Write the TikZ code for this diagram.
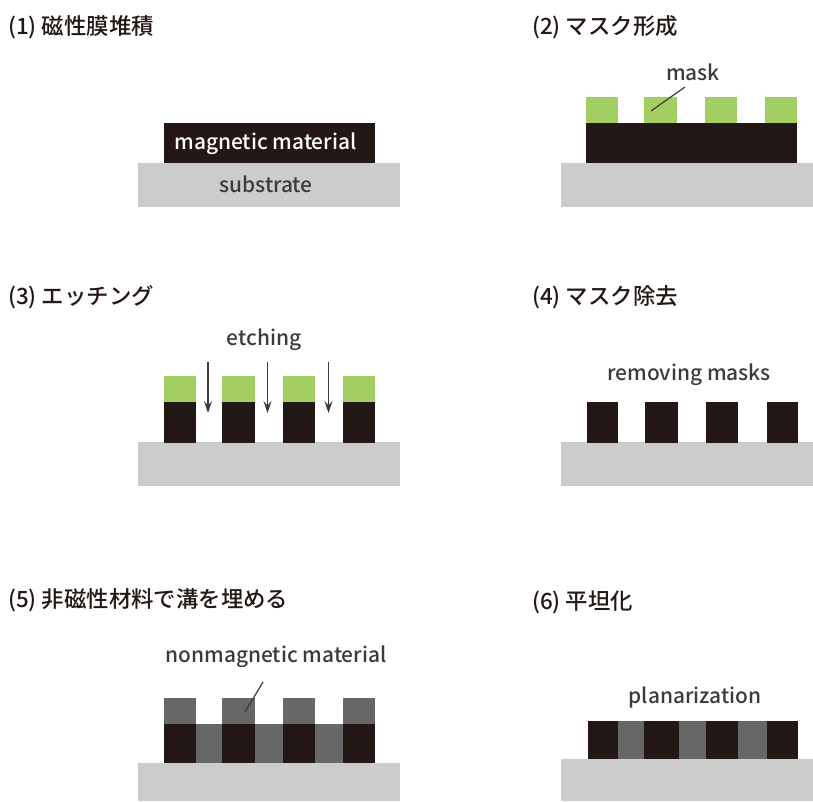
\documentclass[tikz,border=0pt]{standalone}
\usepackage{fontspec}
\setmainfont{Noto Sans CJK JP}[UprightFont=* Medium]
\usetikzlibrary{arrows.meta}
\definecolor{magblk}{HTML}{231815}
\definecolor{maskgrn}{HTML}{A3CF62}
\definecolor{subgray}{HTML}{CCCCCC}
\definecolor{nongray}{HTML}{656866}
\definecolor{txtgray}{HTML}{3E3A39}
\tikzset{
  title/.style={anchor=west,inner sep=0pt,text=magblk,font=\fontsize{22.4}{26}\selectfont},
  lbl/.style={inner sep=0pt,text=txtgray,font=\fontsize{20.9}{25}\selectfont},
  sub/.style={fill=subgray},
  mag/.style={fill=magblk},
  msk/.style={fill=maskgrn},
  nonm/.style={fill=nongray},
  leader/.style={draw=txtgray,line width=1.2pt},
  etch/.style={draw=txtgray,line width=1.4pt,-{Stealth[length=12pt,width=8pt,inset=4.5pt]}}
}
\begin{document}
\begin{tikzpicture}[x=1pt,y=-1pt]
\useasboundingbox (0,0) rectangle (813,801);
% ---------- Panel 1
\node[title] (t1) at (8,27) {(1) 磁性膜堆積};
\fill[sub] (138,163) rectangle (400,207);
\fill[mag] (164,123) rectangle (375,163);
\node[lbl,text=white] (l1a) at (265.5,144) {magnetic material};
\node[lbl] (l1b) at (266,184) {substrate};
% ---------- Panel 2
\node[title] (t2) at (532,27) {(2) マスク形成};
\fill[sub] (561,163) rectangle (813,207);
\fill[mag] (586,123) rectangle (797,163);
\foreach \a/\b in {0/32,58/90.5,119/151,179/211}{
  \fill[msk] (586+\a,97) rectangle (586+\b,123);
}
\node[lbl] (l2) at (693,72) {mask};
\coordinate (m2a) at (685,87);
\coordinate (m2b) at (651,111);
\draw[leader] (m2a) -- (m2b);
% ---------- Panel 3
\node[title] (t3) at (8,297) {(3) エッチング};
\fill[sub] (138,442) rectangle (400,486);
\foreach \a/\b in {0/32,58/90.5,119/151,179/211}{
  \fill[mag] (164+\a,402) rectangle (164+\b,443);
  \fill[msk] (164+\a,376) rectangle (164+\b,402);
}
\node[lbl] (l3) at (264,340) {etching};
\foreach \x/\n in {208/a,267.5/b,328.5/c}{
  \coordinate (e\n1) at (\x,362);
  \coordinate (e\n2) at (\x,413);
  \draw[etch] (e\n1) -- (e\n2);
}
% ---------- Panel 4
\node[title] (t4) at (532,297) {(4) マスク除去};
\fill[sub] (561,442) rectangle (813,486);
\foreach \a/\b in {0/31,58/90.5,119/151,180/211}{
  \fill[mag] (587+\a,402) rectangle (587+\b,443);
}
\node[lbl] (l4) at (689,375) {removing masks};
% ---------- Panel 5
\node[title] (t5) at (8,600) {(5) 非磁性材料で溝を埋める};
\fill[sub] (138,763) rectangle (400,801);
\fill[nonm] (164,724) rectangle (375,763);
\foreach \a/\b in {0/32,58/90.5,119/151,179/211}{
  \fill[mag] (164+\a,724) rectangle (164+\b,763);
  \fill[nonm] (164+\a,698) rectangle (164+\b,724);
}
\node[lbl] (l5) at (276,657) {nonmagnetic material};
\coordinate (n5a) at (263,682);
\coordinate (n5b) at (245,712);
\draw[leader] (n5a) -- (n5b);
% ---------- Panel 6
\node[title] (t6) at (532,602) {(6) 平坦化};
\fill[sub] (561,759) rectangle (813,801);
\fill[nonm] (588,721) rectangle (798,759);
\foreach \a/\b in {0/30,56/91,118/150,179/210}{
  \fill[mag] (588+\a,721) rectangle (588+\b,759);
}
\node[lbl] (l6) at (695,697) {planarization};
\end{tikzpicture}
\end{document}
